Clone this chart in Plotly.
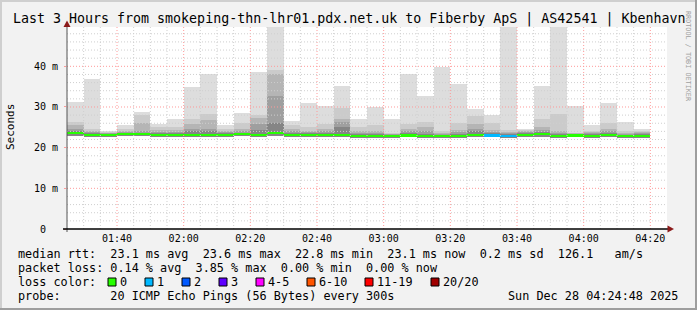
import numpy as np
import pandas as pd
import plotly.graph_objects as go

# ---------------- data ----------------
bar_start = pd.date_range("2025-12-28 01:25", periods=35, freq="5min")

smoke_max = [31.2, 36.8, 24.1, 25.5, 28.8, 25.9, 27.0, 34.9, 38.0, 25.5, 28.5, 38.5,
             55.0, 26.5, 31.0, 30.2, 35.1, 27.0, 30.0, 27.0, 38.0, 32.6, 39.8, 35.6,
             29.4, 28.0, 55.0, 24.7, 35.1, 55.0, 30.2, 25.5, 31.0, 26.3, 24.5]
smoke_l2 = [26.3, 24.7, 23.8, 24.7, 28.0, 25.2, 25.1, 27.1, 28.4, 24.7, 26.1, 28.1,
            39.1, 25.5, 25.1, 25.9, 29.8, 25.1, 25.5, 23.6, 25.9, 26.3, 24.1, 26.1,
            27.7, 26.1, 24.3, 24.3, 27.1, 28.2, 23.6, 24.1, 26.1, 24.1, 24.1]
smoke_l3 = [25.5, 24.1, 23.6, 24.2, 26.1, 24.3, 24.3, 25.9, 26.7, 24.2, 24.6, 27.4,
            38.0, 24.7, 24.1, 24.7, 27.1, 24.1, 24.2, 23.4, 24.7, 25.1, 23.7, 24.3,
            25.9, 24.3, 23.8, 24.0, 25.1, 24.1, 23.5, 23.8, 24.7, 23.7, 23.8]
smoke_l4 = [24.7, 23.8, 23.5, 23.9, 24.1, 23.9, 23.9, 24.7, 24.7, 23.9, 24.0, 25.9,
            32.6, 24.0, 23.8, 24.2, 26.3, 23.6, 23.6, 23.3, 24.0, 24.0, 23.4, 23.8,
            24.7, 23.8, 23.5, 23.8, 24.3, 23.7, 23.4, 23.5, 24.1, 23.4, 23.5]
smoke_l5 = [24.0, 23.5, 23.4, 23.6, 23.7, 23.6, 23.6, 24.0, 24.1, 23.6, 23.7, 24.3,
            26.1, 23.6, 23.5, 23.7, 25.1, 23.3, 23.3, 23.2, 23.5, 23.4, 23.2, 23.4,
            24.1, 23.5, 23.3, 23.6, 23.9, 23.4, 23.3, 23.3, 23.7, 23.2, 23.3]
smoke_min = [22.9, 22.6, 22.6, 22.8, 22.8, 22.7, 22.6, 22.6, 22.6, 22.7, 22.8, 22.6,
             22.9, 22.6, 22.6, 22.6, 22.6, 22.4, 22.4, 22.4, 22.5, 22.3, 22.3, 22.4,
             22.6, 22.5, 22.3, 22.6, 22.7, 22.4, 22.5, 22.4, 22.7, 22.3, 22.4]
median_rtt = [23.6, 23.1, 23.1, 23.3, 23.3, 23.2, 23.1, 23.1, 23.1, 23.2, 23.3, 23.1,
              23.6, 23.1, 23.1, 23.1, 23.1, 22.9, 22.9, 22.9, 23.0, 22.8, 22.8, 22.9,
              23.1, 23.0, 22.8, 23.1, 23.3, 22.9, 23.0, 22.9, 23.2, 22.8, 22.9]
lost_pings = [0] * 25 + [1, 1] + [0] * 8

loss_labels = ["0", "1", "2", "3", "4-5", "6-10", "11-19", "20/20"]
loss_colors = ["#26ff00", "#00b8ff", "#0059ff", "#5e00ff", "#ff00ff", "#ff5500", "#ff0000", "#a00000"]

y_tickvals = [0, 10, 20, 30, 40]
y_ticktext = ["0\u00a0\u00a0", "10 m", "20 m", "30 m", "40 m"]

title_text = "Last 3 Hours from smokeping-thn-lhr01.pdx.net.uk to Fiberby ApS | AS42541 | Kbenhavn"
stat_lines = [
    "median rtt:  23.1 ms avg  23.6 ms max  22.8 ms min  23.1 ms now  0.2 ms sd  126.1   am/s",
    "packet loss: 0.14 % avg  3.85 % max  0.00 % min  0.00 % now",
    "loss color:",
    "probe:" + " " * 7 + "20 ICMP Echo Pings (56 Bytes) every 300s",
]
stamp_text = "Sun Dec 28 04:24:48 2025"

# ---------------- layout helpers ----------------
W, H = 697, 310
L, R, T, B = 67, 667, 27, 229
YMAX = (B - T) / 4.067
MONO = "DejaVu Sans Mono"


def px(x):
    return (x - L) / (R - L)


def py(y):
    return (B - y) / (B - T)


def nb(s):
    return s.replace(" ", "\u00a0")


bar_w = 5 * 60 * 1000
fig = go.Figure()

layers = [(smoke_max, "#dddddd"), (smoke_l2, "#cbcbcb"), (smoke_l3, "#b5b5b5"),
          (smoke_l4, "#9f9f9f"), (smoke_l5, "#858585")]
for tops, col in layers:
    fig.add_trace(go.Bar(
        x=bar_start, base=smoke_min,
        y=[t - m for t, m in zip(tops, smoke_min)],
        width=bar_w, offset=0, marker=dict(color=col, line=dict(width=0)),
        showlegend=False, hoverinfo="skip"))

half = 0.28
fig.add_trace(go.Bar(
    x=bar_start, base=[m - half for m in median_rtt], y=[2 * half] * len(median_rtt),
    width=bar_w, offset=0,
    marker=dict(color=[loss_colors[k] for k in lost_pings], line=dict(width=0)),
    showlegend=False, hoverinfo="skip"))

shapes = []
t0 = pd.Timestamp("2025-12-28 01:25")
t1 = pd.Timestamp("2025-12-28 04:25")
# vertical grid
for t in pd.date_range(t0 + pd.Timedelta("5min"), t1 - pd.Timedelta("1min"), freq="5min"):
    major = (t.minute % 20 == 0)
    shapes.append(dict(type="line", xref="x", yref="paper", x0=t, x1=t, y0=0, y1=1,
                       line=dict(color="#ff9a9a" if major else "#cfcfcf", width=1, dash="1px,2px"),
                       layer="above"))
# horizontal grid
for v in np.arange(2, YMAX, 2):
    major = (round(v) % 10 == 0)
    shapes.append(dict(type="line", xref="paper", yref="y", x0=0, x1=1, y0=v, y1=v,
                       line=dict(color="#ff9a9a" if major else "#cfcfcf", width=1, dash="1px,2px"),
                       layer="above"))
# axis lines and arrows
shapes.append(dict(type="line", xref="paper", yref="paper", x0=px(L), x1=px(L), y0=py(B + 3), y1=py(23),
                   line=dict(color="#555555", width=1), layer="above"))
shapes.append(dict(type="line", xref="paper", yref="paper", x0=px(L - 4), x1=px(670), y0=py(B), y1=py(B),
                   line=dict(color="#000000", width=1.3), layer="above"))
shapes.append(dict(type="path", xref="paper", yref="paper",
                   path=f"M {px(L-3.5)} {py(27)} L {px(L+3.5)} {py(27)} L {px(L)} {py(20.5)} Z",
                   fillcolor="#8b1a1a", line=dict(width=0), layer="above"))
shapes.append(dict(type="path", xref="paper", yref="paper",
                   path=f"M {px(667.5)} {py(B-3.5)} L {px(667.5)} {py(B+3.5)} L {px(674)} {py(B)} Z",
                   fillcolor="#8b1a1a", line=dict(width=0), layer="above"))
# image frame
shapes += [
    dict(type="rect", xref="paper", yref="paper", x0=px(0), x1=px(W), y0=py(0), y1=py(2),
         fillcolor="#cfcfcf", line=dict(width=0), layer="above"),
    dict(type="rect", xref="paper", yref="paper", x0=px(0), x1=px(2), y0=py(0), y1=py(H),
         fillcolor="#cfcfcf", line=dict(width=0), layer="above"),
    dict(type="rect", xref="paper", yref="paper", x0=px(0), x1=px(W), y0=py(H - 2), y1=py(H),
         fillcolor="#9e9e9e", line=dict(width=0), layer="above"),
    dict(type="rect", xref="paper", yref="paper", x0=px(W - 2), x1=px(W), y0=py(0), y1=py(H),
         fillcolor="#9e9e9e", line=dict(width=0), layer="above"),
]

annotations = []
annotations.append(dict(text=nb(title_text), x=px(348.5), y=py(19), xref="paper", yref="paper",
                        xanchor="center", yanchor="middle", showarrow=False,
                        font=dict(family=MONO, size=13.3, color="#000000")))
annotations.append(dict(text="Seconds", x=px(10), y=py(127), xref="paper", yref="paper",
                        xanchor="center", yanchor="middle", showarrow=False, textangle=-90,
                        font=dict(family=MONO, size=11, color="#000000")))
annotations.append(dict(text=nb("RRDTOOL / TOBI OETIKER"), x=px(688), y=py(56), xref="paper", yref="paper",
                        xanchor="center", yanchor="middle", showarrow=False, textangle=90,
                        font=dict(family=MONO, size=6.8, color="#a0a0a0")))
row_y = [254, 268, 282, 296]
for s, yy in zip(stat_lines, row_y):
    annotations.append(dict(text=nb(s), x=px(16), y=py(yy), xref="paper", yref="paper",
                            xanchor="left", yanchor="middle", showarrow=False,
                            font=dict(family=MONO, size=11.8, color="#000000")))
annotations.append(dict(text=nb(stamp_text), x=px(680), y=py(296), xref="paper", yref="paper",
                        xanchor="right", yanchor="middle", showarrow=False,
                        font=dict(family=MONO, size=11.8, color="#000000")))
box_x = [108, 145, 182, 219, 256, 307, 365, 431]
for lab, col, bx in zip(loss_labels, loss_colors, box_x):
    shapes.append(dict(type="rect", xref="paper", yref="paper", x0=px(bx), x1=px(bx + 8),
                       y0=py(278), y1=py(286), fillcolor=col, line=dict(color="#000000", width=1),
                       layer="above"))
    annotations.append(dict(text=lab, x=px(bx + 10), y=py(282), xref="paper", yref="paper",
                            xanchor="left", yanchor="middle", showarrow=False,
                            font=dict(family=MONO, size=11.8, color="#000000")))

fig.update_layout(
    width=W, height=H, autosize=False,
    margin=dict(l=L, r=W - R, t=T, b=H - B, pad=0),
    paper_bgcolor="#f2f2f2", plot_bgcolor="#ffffff",
    barmode="overlay", bargap=0, showlegend=False,
    shapes=shapes, annotations=annotations,
    xaxis=dict(type="date", range=[t0, t1], showgrid=False, zeroline=False, showline=False,
               tickvals=pd.date_range("2025-12-28 01:40", "2025-12-28 04:20", freq="20min"),
               tickformat="%H:%M", ticks="", ticklabelstandoff=2,
               tickfont=dict(family=MONO, size=10, color="#000000")),
    yaxis=dict(range=[0, YMAX], showgrid=False, zeroline=False, showline=False,
               tickvals=y_tickvals, ticktext=y_ticktext, ticks="outside", ticklen=2,
               tickcolor="#ff9a9a", ticklabelstandoff=4,
               tickfont=dict(family=MONO, size=10, color="#000000")),
)

fig.write_html("out.html")
